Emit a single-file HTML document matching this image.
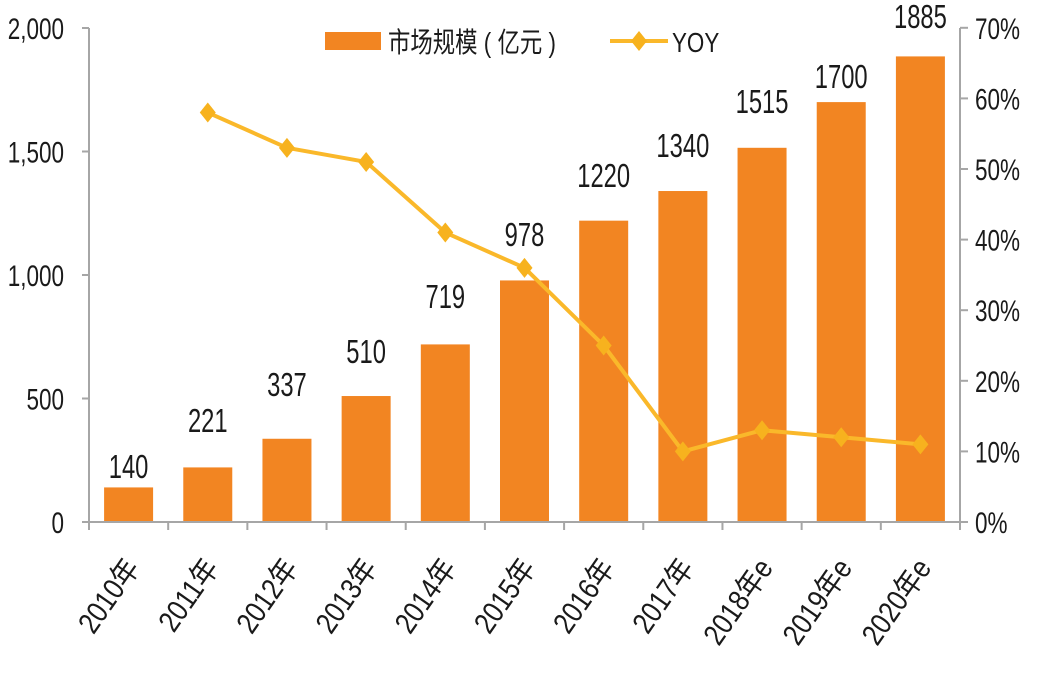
<!DOCTYPE html>
<html><head><meta charset="utf-8"><style>
html,body{margin:0;padding:0;background:#fff;}
svg text{font-family:"Liberation Sans","Noto Sans CJK SC",sans-serif;fill:#1a1a1a;}
</style></head><body>
<svg width="1042" height="685" viewBox="0 0 1042 685" xmlns="http://www.w3.org/2000/svg">
<g id="bars" fill="#F28522"></g>
<g stroke="#a6a6a6" stroke-width="2" fill="none">
<line x1="89" y1="28" x2="89" y2="522"/>
<line x1="960" y1="28" x2="960" y2="522"/>
<line x1="89" y1="522" x2="960" y2="522"/>
</g>
<g id="ticks" stroke="#a6a6a6" stroke-width="2"></g>
<g id="labels"></g>
<polyline id="yoy" fill="none" stroke="#FAB82A" stroke-width="4" stroke-linejoin="round"/>
<g id="marks" fill="#F7B21E"></g>
<!-- legend -->
<rect x="325" y="32" width="56" height="18" fill="#F28522"/>
<text x="388" y="52" font-size="28" transform="translate(388 0) scale(0.8 1) translate(-388 0)">市场规模 ( 亿元 )</text>
<line x1="610" y1="41" x2="668" y2="41" stroke="#FAB82A" stroke-width="4"/>
<path d="M639 31 L647 41 L639 51 L631 41 Z" fill="#F7B21E"/>
<text x="672" y="52" font-size="28" transform="translate(672 0) scale(0.8 1) translate(-672 0)">YOY</text>
<script>
var vals=[140,221,337,510,719,978,1220,1340,1515,1700,1885];
var lb=[478,432,396,363,308,246,187,157,113,88,28];
var yoy=[null,58,53,51,41,36,25,10,13,12,11];
var yrs=["2010年","2011年","2012年","2013年","2014年","2015年","2016年","2017年","2018年e","2019年e","2020年e"];
var NS="http://www.w3.org/2000/svg";
function el(t,a,p,txt){var e=document.createElementNS(NS,t);for(var k in a)e.setAttribute(k,a[k]);if(txt)e.textContent=txt;p.appendChild(e);return e;}
var bars=document.getElementById("bars"),ticks=document.getElementById("ticks"),labels=document.getElementById("labels"),marks=document.getElementById("marks");
var w=871/11,pts=[];
for(var i=0;i<11;i++){
 var cx=89+w*(i+0.5),h=vals[i]*0.247;
 el("rect",{x:cx-24.5,y:522-h,width:49,height:h},bars);
 el("text",{x:cx,y:lb[i],"font-size":33,"text-anchor":"middle",transform:"translate("+cx+" 0) scale(0.72 1) translate("+(-cx)+" 0)"},labels,""+vals[i]);
 el("text",{x:0,y:0,"font-size":30,"text-anchor":"end",transform:"translate("+(cx+12)+" 568) rotate(-55) scale(0.85 1)"},labels,yrs[i]);
 if(yoy[i]!==null){var y=522-yoy[i]*7.06;pts.push(cx+","+y);
  el("path",{d:"M"+cx+" "+(y-10)+" L"+(cx+8)+" "+y+" L"+cx+" "+(y+10)+" L"+(cx-8)+" "+y+"Z"},marks);}
}
for(var i=0;i<=11;i++){var x=89+w*i;el("line",{x1:x,y1:522,x2:x,y2:530},ticks);}
var ll=["0","500","1,000","1,500","2,000"];
for(var i=0;i<5;i++){var y=522-i*123.5;el("line",{x1:82,y1:y,x2:89,y2:y},ticks);
 el("text",{x:64,y:y+11,"font-size":30,"text-anchor":"end",transform:"translate(64 0) scale(0.75 1) translate(-64 0)"},labels,ll[i]);}
for(var i=0;i<=7;i++){var y=522-i*70.6;el("line",{x1:960,y1:y,x2:968,y2:y},ticks);
 el("text",{x:975,y:y+11,"font-size":30,transform:"translate(975 0) scale(0.75 1) translate(-975 0)"},labels,(i*10)+"%");}
document.getElementById("yoy").setAttribute("points",pts.join(" "));
</script>
</svg>
</body></html>
